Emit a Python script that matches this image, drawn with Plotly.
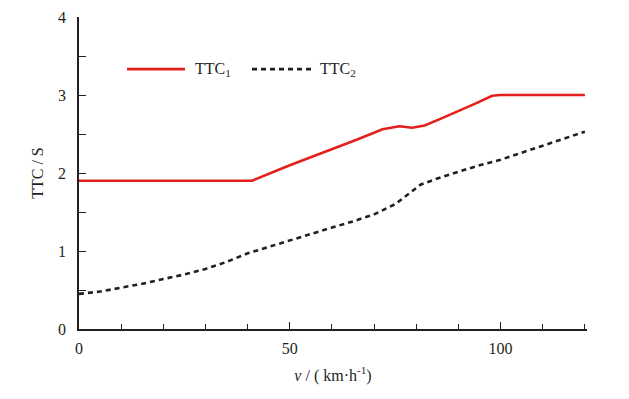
import plotly.graph_objects as go

v1 = [0, 10, 20, 30, 41, 50, 60, 66, 72, 76, 79, 82, 86, 90, 94, 98, 100, 110, 120]
ttc1 = [1.90, 1.90, 1.90, 1.90, 1.90, 2.10, 2.30, 2.43, 2.56, 2.60, 2.58, 2.61, 2.70, 2.79, 2.89, 2.99, 3.0, 3.0, 3.0]

v2 = [0, 5, 10, 15, 20, 25, 30, 35, 40, 45, 50, 55, 60, 65, 70, 75, 78, 81, 85, 90, 95, 100, 105, 110, 115, 120]
ttc2 = [0.45, 0.48, 0.53, 0.58, 0.64, 0.70, 0.77, 0.86, 0.97, 1.05, 1.13, 1.22, 1.30, 1.38, 1.47, 1.60, 1.73, 1.85, 1.93, 2.02, 2.10, 2.17, 2.26, 2.35, 2.44, 2.53]

series_names = ["TTC<sub>1</sub>", "TTC<sub>2</sub>"]

font_family = "Liberation Serif"
axis_color = "#231f20"
red = "#e3201b"
tfont = dict(family=font_family, size=16, color=axis_color)

fig = go.Figure()
fig.add_trace(go.Scatter(x=v1, y=ttc1, mode="lines", name=series_names[0],
                         line=dict(color=red, width=2.6), showlegend=False))
fig.add_trace(go.Scatter(x=v2, y=ttc2, mode="lines", name=series_names[1],
                         line=dict(color=axis_color, width=2.6, dash="5px,4px"), showlegend=False))

# manual legend
ly = 0.833
fig.add_shape(type="line", xref="paper", yref="paper", x0=0.0945, x1=0.2087, y0=ly, y1=ly,
              line=dict(color=red, width=2.6))
fig.add_shape(type="line", xref="paper", yref="paper", x0=0.3406, x1=0.4587, y0=ly, y1=ly,
              line=dict(color=axis_color, width=2.6, dash="5px,4px"))
fig.add_annotation(xref="paper", yref="paper", x=0.2244, y=ly, xanchor="left", yanchor="middle",
                   text=series_names[0], showarrow=False, font=tfont)
fig.add_annotation(xref="paper", yref="paper", x=0.4705, y=ly, xanchor="left", yanchor="middle",
                   text=series_names[1], showarrow=False, font=tfont)

fig.update_layout(
    width=629, height=399,
    margin=dict(l=79, r=42, t=17, b=70),
    plot_bgcolor="white", paper_bgcolor="white",
    font=tfont,
    showlegend=False,
    xaxis=dict(range=[0, 120.5], tickmode="linear", tick0=0, dtick=50, ticks="inside", ticklen=7,
               tickwidth=1.2, automargin=False, tickfont=tfont,
               tickcolor=axis_color, showline=True, linecolor=axis_color, linewidth=1.5,
               showgrid=False, zeroline=False, ticklabelstandoff=4,
               minor=dict(dtick=10, tick0=0, ticks="inside", ticklen=5, tickwidth=1.2,
                          tickcolor=axis_color, showgrid=False),
               title=dict(text="<i>v</i> / ( km·h<sup>-1</sup>)", standoff=14, font=tfont)),
    yaxis=dict(range=[0, 4], tickmode="linear", tick0=0, dtick=1, ticks="inside", ticklen=7,
               tickwidth=1.2, automargin=False, tickfont=tfont,
               tickcolor=axis_color, showline=True, linecolor=axis_color, linewidth=1.5,
               showgrid=False, zeroline=False, ticklabelstandoff=8,
               minor=dict(dtick=0.5, tick0=0, ticks="inside", ticklen=7, tickwidth=1.2,
                          tickcolor=axis_color, showgrid=False),
               title=dict(text="TTC / S", standoff=10, font=tfont)),
)

fig.write_html("out.html", config={"displayModeBar": False},
               post_script="document.body.style.margin='0';")
